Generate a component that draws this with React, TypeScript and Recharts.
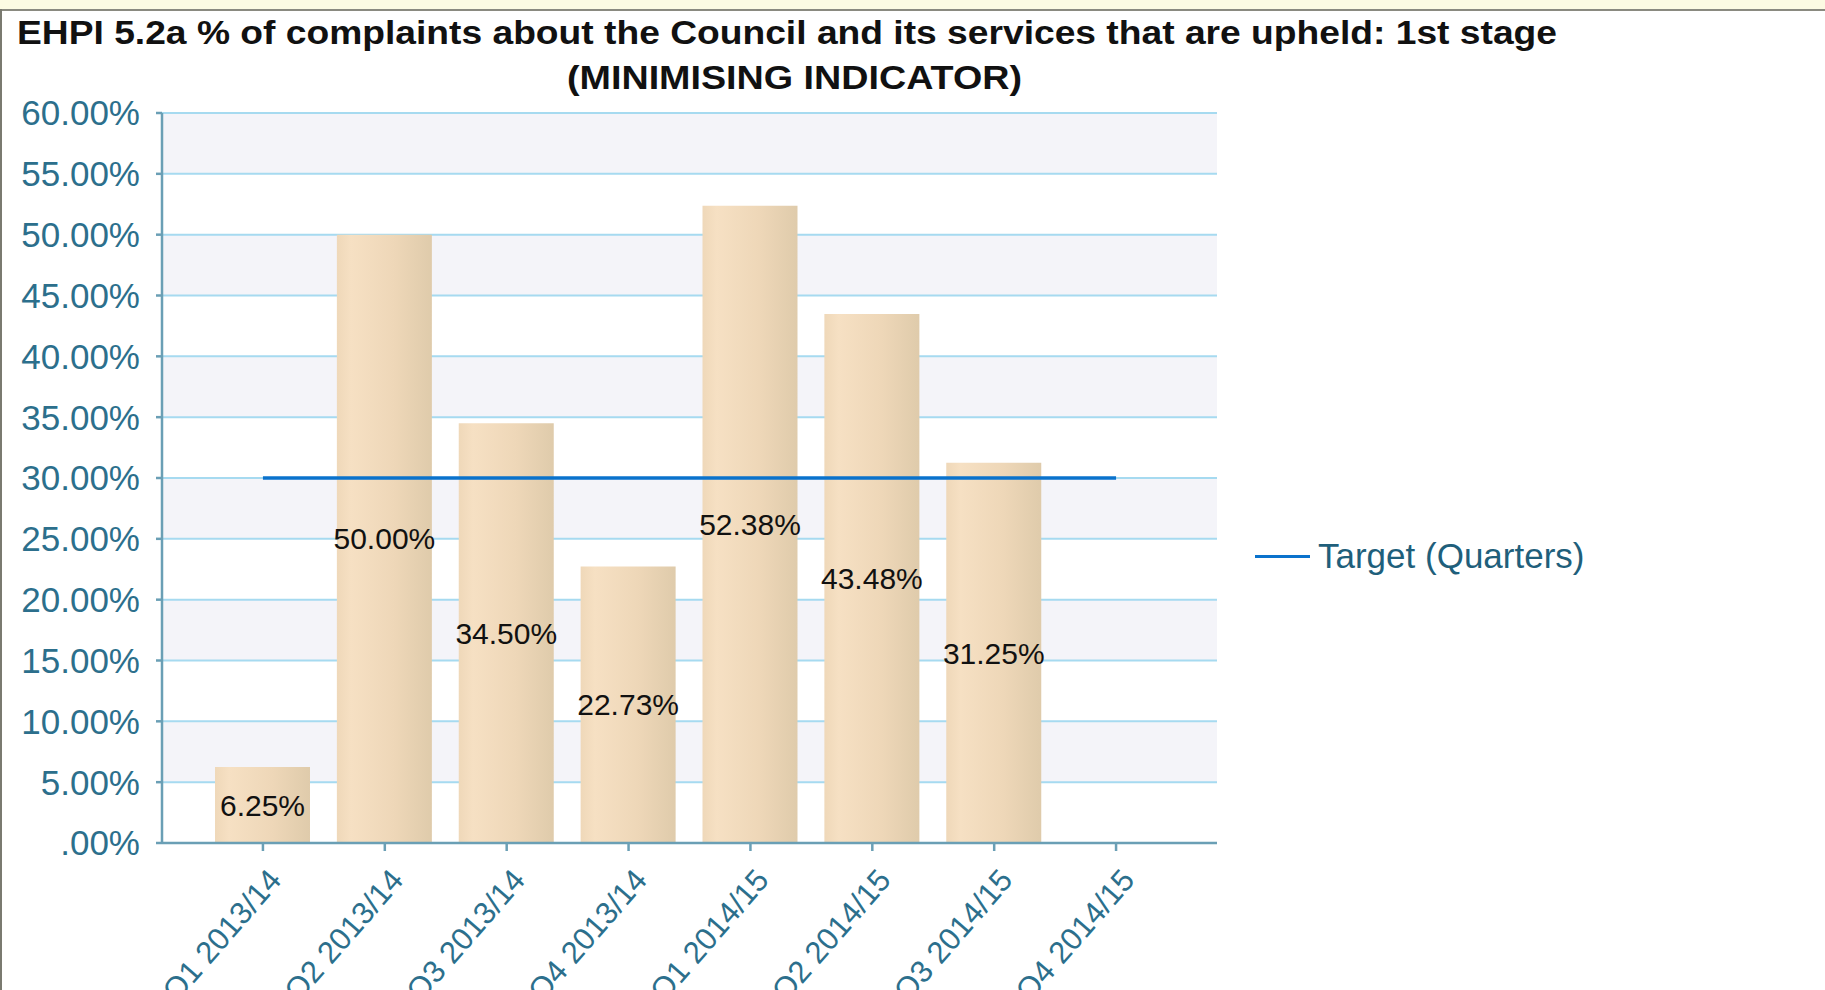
import React from 'react';
import { ComposedChart, Bar, Line, XAxis, YAxis, CartesianGrid, LabelList, Legend } from 'recharts';

const quarters = ['Q1 2013/14', 'Q2 2013/14', 'Q3 2013/14', 'Q4 2013/14', 'Q1 2014/15', 'Q2 2014/15', 'Q3 2014/15', 'Q4 2014/15'];
const upheld: (number | null)[] = [6.25, 50.0, 34.5, 22.73, 52.38, 43.48, 31.25, null];
const target = [30, 30, 30, 30, 30, 30, 30, 30];
const yTicks = [0, 5, 10, 15, 20, 25, 30, 35, 40, 45, 50, 55, 60];

const titleLine1 = 'EHPI 5.2a % of complaints about the Council and its services that are upheld: 1st stage';
const titleLine2 = '(MINIMISING INDICATOR)';

const data = quarters.map((q, i) => ({ quarter: q, upheld: upheld[i], target: target[i] }));

const FONT = '"Liberation Sans", Arial, sans-serif';
const AXIS_TEXT = '#2c6f8c';
const AXIS_LINE = '#6a9fb5';
const TARGET_BLUE = '#0a72cc';

const pct = (v: number) => (v === 0 ? '.00%' : `${v.toFixed(2)}%`);

const QuarterTick = (props: any) => {
  const { x, y, payload } = props;
  return (
    <g transform={`translate(${x + 20},${y + 28}) rotate(-49)`}>
      <text x={0} y={0} textAnchor="end" fill={AXIS_TEXT} fontSize={31} fontFamily={FONT}>
        {payload.value}
      </text>
    </g>
  );
};

const TargetLegend = (props: any) => {
  const items = (props.payload || []).filter((p: any) => p.dataKey === 'target');
  return (
    <div>
      {items.map((p: any) => (
        <div key={p.value} style={{ display: 'flex', alignItems: 'center', fontFamily: FONT, fontSize: 35, color: '#1f5f7b' }}>
          <span style={{ display: 'inline-block', width: 55, height: 3, background: TARGET_BLUE, marginRight: 8 }} />
          <span>{p.value}</span>
        </div>
      ))}
    </div>
  );
};

export default function App() {
  return (
    <div style={{ position: 'absolute', left: 0, top: 0, width: 1825, height: 990, background: '#fff', overflow: 'hidden' }}>
      <div style={{ position: 'absolute', left: 0, top: 0, width: 1825, height: 9, background: '#fcfbe3', borderBottom: '2px solid #8a8a80' }} />
      <div style={{ position: 'absolute', left: 0, top: 9, width: 2, height: 981, background: '#7a7a70' }} />
      <svg width={1825} height={110} style={{ position: 'absolute', left: 0, top: 0 }}>
        <text x={17} y={44} textLength={1540} lengthAdjust="spacingAndGlyphs" fontFamily={FONT} fontWeight="bold" fontSize={34} fill="#111">
          {titleLine1}
        </text>
        <text x={567} y={89} textLength={455} lengthAdjust="spacingAndGlyphs" fontFamily={FONT} fontWeight="bold" fontSize={34} fill="#111">
          {titleLine2}
        </text>
      </svg>
      <div style={{ position: 'absolute', left: 0, top: 0 }}>
        <ComposedChart width={1825} height={990} data={data} margin={{ top: 113, right: 608, bottom: 7, left: 12 }}>
          <defs>
            <linearGradient id="barGrad" x1="0" y1="0" x2="1" y2="0">
              <stop offset="0%" stopColor="#efd8b9" />
              <stop offset="15%" stopColor="#f6e0c3" />
              <stop offset="60%" stopColor="#eed7b8" />
              <stop offset="100%" stopColor="#dfcbab" />
            </linearGradient>
          </defs>
          <CartesianGrid
            vertical={false}
            stroke="#a6daf0"
            strokeWidth={2}
            fill="none"
            horizontalFill={['#f4f4f9', '#ffffff']}
          />
          <XAxis
            dataKey="quarter"
            padding={{ left: 40, right: 40 }}
            interval={0}
            height={140}
            tick={<QuarterTick />}
            tickSize={8}
            stroke={AXIS_LINE}
            strokeWidth={2.5}
          />
          <YAxis
            domain={[0, 60]}
            ticks={yTicks}
            interval={0}
            width={150}
            tickFormatter={pct}
            tickSize={6}
            tickMargin={16}
            stroke={AXIS_LINE}
            strokeWidth={2.5}
            tick={{ fill: AXIS_TEXT, fontSize: 35, fontFamily: FONT }}
          />
          <Bar dataKey="upheld" barSize={95} fill="url(#barGrad)" legendType="none" isAnimationActive={false}>
            <LabelList
              dataKey="upheld"
              position="center"
              formatter={(v: any) => (v == null ? '' : `${Number(v).toFixed(2)}%`)}
              fill="#111"
              fontSize={30}
              fontFamily={FONT}
            />
          </Bar>
          <Line
            dataKey="target"
            name="Target (Quarters)"
            stroke={TARGET_BLUE}
            strokeWidth={3.5}
            dot={false}
            activeDot={false}
            isAnimationActive={false}
          />
          <Legend
            layout="horizontal"
            align="center"
            verticalAlign="middle"
            content={<TargetLegend />}
            wrapperStyle={{ left: 1255, top: 536, width: 'auto' }}
          />
        </ComposedChart>
      </div>
    </div>
  );
}
